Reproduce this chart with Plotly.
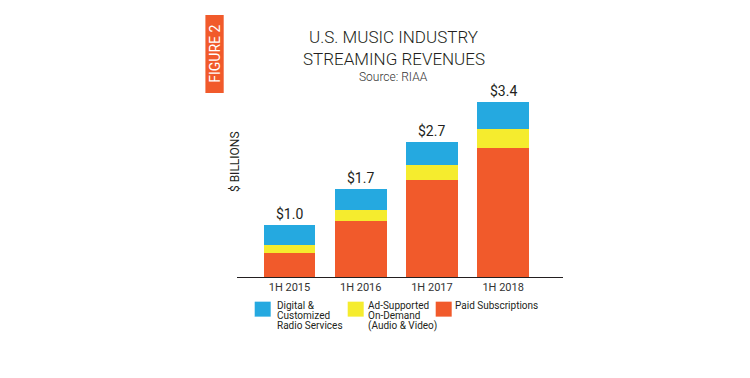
import plotly.graph_objects as go

categories = ["1H 2015", "1H 2016", "1H 2017", "1H 2018"]
paid_subscriptions = [0.47, 1.10, 1.90, 2.52]
ad_supported = [0.16, 0.21, 0.29, 0.36]
digital_radio = [0.38, 0.41, 0.45, 0.53]
total_labels = ["$1.0", "$1.7", "$2.7", "$3.4"]

series_names = ["Digital &<br>Customized<br>Radio Services",
                "Ad-Supported<br>On-Demand<br>(Audio & Video)",
                "Paid Subscriptions"]

BLUE = "#25A9E0"
YELLOW = "#F5EC2E"
ORANGE = "#F15A2B"
TEXT = "#231F20"
FONT = "Roboto, DejaVu Sans, sans-serif"

# page body has an 8px margin; shift everything to compensate
O = 8
W, H = 750 - O, 378 - O
L, R, T, B = 237.3 - O, 750 - 563.3, 90 - O, 378 - 277.3
pw, ph = W - L - R, H - T - B


def px(x):
    return (x - O - L) / pw


def py(y):
    return (H - B - (y - O)) / ph


fig = go.Figure()
fig.add_bar(x=categories, y=paid_subscriptions, marker_color=ORANGE,
            marker_line_width=0, name="Paid Subscriptions", showlegend=False)
fig.add_bar(x=categories, y=ad_supported, marker_color=YELLOW,
            marker_line_width=0, name="Ad-Supported", showlegend=False)
fig.add_bar(x=categories, y=digital_radio, marker_color=BLUE,
            marker_line_width=0, name="Digital", showlegend=False)

totals = [a + b + c for a, b, c in zip(paid_subscriptions, ad_supported, digital_radio)]
annotations = []
for cat, tot, lab in zip(categories, totals, total_labels):
    annotations.append(dict(x=cat, y=tot, xref="x", yref="y", text=lab,
                            showarrow=False, yanchor="bottom", yshift=1,
                            font=dict(family=FONT, size=14, color=TEXT, weight=400)))

# Title block
annotations += [
    dict(x=px(394), y=py(37), xref="paper", yref="paper", text="U.S. MUSIC INDUSTRY",
         showarrow=False, xanchor="center", yanchor="middle",
         font=dict(family=FONT, size=17, color=TEXT, weight=300)),
    dict(x=px(394), y=py(58.5), xref="paper", yref="paper", text="STREAMING REVENUES",
         showarrow=False, xanchor="center", yanchor="middle",
         font=dict(family=FONT, size=17, color=TEXT, weight=300)),
    dict(x=px(394), y=py(77), xref="paper", yref="paper", text="Source: RIAA",
         showarrow=False, xanchor="center", yanchor="middle",
         font=dict(family=FONT, size=12, color="#333333", weight=300)),
    dict(x=px(215), y=py(54), xref="paper", yref="paper", text="FIGURE 2",
         showarrow=False, xanchor="center", yanchor="middle", textangle=-90,
         font=dict(family=FONT, size=14, color="white")),
    dict(x=px(236), y=py(161.5), xref="paper", yref="paper", text="$ BILLIONS",
         showarrow=False, xanchor="center", yanchor="middle", textangle=-90,
         font=dict(family=FONT, size=12, color=TEXT)),
]

shapes = [dict(type="rect", xref="paper", yref="paper",
               x0=px(205.7), x1=px(224), y0=py(93), y1=py(15),
               fillcolor=ORANGE, line_width=0, layer="below")]

# Legend (manual)
legend_items = [(BLUE, 255, 275, series_names[0]),
                (YELLOW, 348, 366, series_names[1]),
                (ORANGE, 436, 453.5, series_names[2])]
for color, sx, tx, name in legend_items:
    shapes.append(dict(type="rect", xref="paper", yref="paper",
                       x0=px(sx), x1=px(sx + 16), y0=py(317), y1=py(302),
                       fillcolor=color, line_width=0))
    for i, line in enumerate(name.split("<br>")):
        annotations.append(dict(x=px(tx), y=py(305.5 + 10.2 * i), xref="paper", yref="paper",
                                text=line, showarrow=False, xanchor="left", yanchor="middle",
                                font=dict(family=FONT, size=10, color=TEXT)))

fig.update_layout(
    width=W, height=H,
    margin=dict(l=L, r=R, t=T, b=B, pad=0),
    paper_bgcolor="white", plot_bgcolor="white",
    barmode="stack", bargap=0.274,
    showlegend=False,
    annotations=annotations, shapes=shapes,
    xaxis=dict(range=[-0.737, 3.84], showline=True, linecolor="#231F20", linewidth=1,
               ticks="", showgrid=False, zeroline=False,
               tickfont=dict(family=FONT, size=11, color="#333333")),
    yaxis=dict(range=[0, 187.3 / 51.3], visible=False, showgrid=False, zeroline=False),
)

fig.write_html("out.html")
